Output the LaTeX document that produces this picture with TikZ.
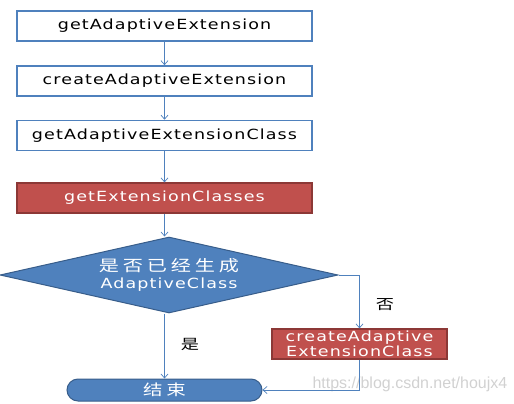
\documentclass[tikz,border=0pt]{standalone}
\usepackage{fontspec}
\setmainfont{DejaVu Sans}
\newfontfamily\lat[FakeStretch=1.25,LetterSpace=8]{DejaVu Sans}
\newfontfamily\cjk[FakeStretch=1.3,LetterSpace=25]{Noto Sans CJK SC}
\newfontfamily\wmf{Liberation Sans}
\usetikzlibrary{shapes.geometric,shapes.misc,arrows.meta}
\definecolor{obl}{HTML}{4F81BD}
\definecolor{obld}{HTML}{385D8A}
\definecolor{ored}{HTML}{C0504D}
\definecolor{oredd}{HTML}{8C3836}
\tikzset{
  txt/.style={font=\lat\fontsize{14}{16}\selectfont},
  wbox/.style={txt, draw=obl, line width=1.6pt, fill=white, minimum width=295pt, minimum height=30pt, inner sep=0pt},
  rbox/.style={txt, draw=oredd, line width=1.2pt, fill=ored, text=white, inner sep=0pt},
  conn/.style={draw=obl, line width=0.7pt, -{Straight Barb[length=4pt,width=7pt]}},
  lab/.style={font=\cjk\fontsize{14}{16}\selectfont},
}
\begin{document}
\begin{tikzpicture}[x=1pt,y=-1pt]
\useasboundingbox (0,0) rectangle (514,404);
\node[wbox] (a) at (164.5,26) {getAdaptiveExtension};
\node[wbox] (b) at (164.5,81) {createAdaptiveExtension};
\node[wbox] (c) at (164.5,135.5) {getAdaptiveExtensionClass};
\node[rbox, minimum width=295pt, minimum height=30pt] (d) at (164.5,198) {getExtensionClasses};
\node[diamond, aspect=4.4, draw=obld, line width=1pt, fill=obl, text=white, inner sep=0pt, minimum width=338pt, minimum height=76pt, txt, align=center] (e) at (169,275) {{\cjk\fontsize{15.5}{16}\selectfont 是否已经生成}\\[1pt]AdaptiveClass};
\node[rbox, minimum width=175pt, minimum height=30pt, align=center, font=\lat\fontsize{14}{14.5}\selectfont] (f) at (359.5,344) {createAdaptive\\ExtensionClass};
\node[rounded rectangle, draw=obld, line width=1pt, fill=obl, text=white, minimum width=195pt, minimum height=22pt, inner sep=0pt, font=\cjk\fontsize{15}{16}\selectfont] (g) at (164.5,390) {结束};
\node[lab] (no) at (385,305) {否};
\node[lab] (yes) at (190,344) {是};
\node[text=black!18, font=\wmf\fontsize{16}{18}\selectfont, anchor=west] (wm) at (309,384) {https://blog.csdn.net/houjx4};
\draw[conn] (a) -- (b);
\draw[conn] (b) -- (c);
\draw[conn] (c) -- (d);
\draw[conn] (d.south) -- (e.north -| d.south);
\draw[conn] (e.east) -| (f.north);
\draw[conn] (e.south -| g.north) -- (g.north);
\draw[conn] (f.south) |- (g.east);
\end{tikzpicture}
\end{document}
